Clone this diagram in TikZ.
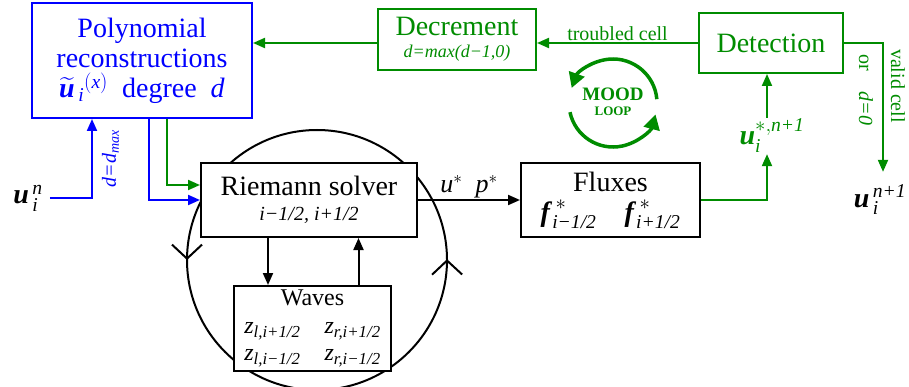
\documentclass[tikz,border=0pt]{standalone}
\usepackage{amsmath}
\usepackage{fontspec}
\setmainfont{Liberation Serif}
\usepackage{tikz}
\usetikzlibrary{arrows.meta,decorations.markings}
\definecolor{moodgreen}{HTML}{008C00}
\definecolor{recblue}{HTML}{0000FF}
\newcommand{\bu}{\textbf{\textit{u}}}
\newcommand{\bff}{\textbf{\textit{f}}}
\newcommand{\ti}[1]{\textit{#1}}

\begin{document}
\begin{tikzpicture}[
      x=1pt, y=-1pt,
      box/.style={draw, fill=white, line width=2pt, align=center, inner sep=0pt,
                  font=\fontsize{28}{30}\selectfont},
      recbox/.style={box, draw=recblue, text=recblue},
      moodbox/.style={box, draw=moodgreen, text=moodgreen},
      lbl/.style={inner sep=1pt, align=center, font=\fontsize{20}{22}\selectfont},
      vec/.style={inner sep=1pt, font=\fontsize{28}{30}\selectfont},
      flow/.style={-{Triangle[length=12pt,width=10pt]}, line width=2pt},
      recflow/.style={flow, recblue},
      moodflow/.style={flow, moodgreen},
      loopflow/.style={-{Triangle[length=15pt,width=16pt]}, line width=3.5pt, moodgreen},
    ]
    \useasboundingbox (0,0) rectangle (909,387);

    % --- wave cycle behind the solver --------------------------------------------
    \draw[line width=2pt, postaction={decorate}, decoration={markings,
        mark=at position 0.5 with {\arrowreversed{Straight Barb[length=14pt,width=30pt]}},
        mark=at position 0.999 with {\arrowreversed{Straight Barb[length=14pt,width=30pt]}}}]
      (317,260) circle[radius=130];

    % --- boxes ---------------------------------------------------------------------
    \node[recbox, minimum width=220pt, minimum height=115pt] (poly) at (142,60.5)
      {Polynomial\\reconstructions\\$\widetilde{\bu}_{\,\ti{i}}{}^{(\ti{x})}$\ \ degree\ \ \ti{d}};
    \node[moodbox, minimum width=158pt, minimum height=61pt] (decr) at (457,39.5)
      {Decrement\\[-8pt]{\fontsize{18}{20}\selectfont\ti{d=max(d−1,0)}}};
    \node[moodbox, minimum width=144pt, minimum height=60pt] (detect) at (771,43) {Detection};
    \node[box, minimum width=216pt, minimum height=74pt] (riemann) at (309,200)
      {Riemann solver\\[-5pt]{\fontsize{20}{22}\selectfont\ti{i−1/2, i+1/2}}};
    \node[box, minimum width=179pt, minimum height=74pt] (fluxes) at (610.5,200)
      {Fluxes\\[0pt]$\bff^{\,*}_{\ti{i−1/2}}\quad\bff^{\,*}_{\ti{i+1/2}}$};
    \node[box, minimum width=157pt, minimum height=85pt, font=\fontsize{24}{26}\selectfont] (waves) at (312.5,328.5)
      {Waves\\[2pt]\ti{z}$_{\ti{l,i+1/2}}$\quad\ti{z}$_{\ti{r,i+1/2}}$\\[1pt]\ti{z}$_{\ti{l,i−1/2}}$\quad\ti{z}$_{\ti{r,i−1/2}}$};

    % --- states --------------------------------------------------------------------
    \node[vec] (uold) at (28,198) {$\bu^{\,\ti{n}}_{\,\ti{i}}$};
    \node[vec] (unew) at (880,200) {$\bu^{\,\ti{n+1}}_{\,\ti{i}}$};
    \node[vec, text=moodgreen] (ustar) at (772,136) {$\bu^{*,\ti{n+1}}_{\ti{i}}$};

    % --- reconstruction in, solver, fluxes ----------------------------------------
    \draw[recflow] ([xshift=6pt]uold.east) -| node[lbl, pos=0.75, xshift=8pt, rotate=90, anchor=north, text=recblue] {\ti{d=d}$_{\ti{max}}$} ([xshift=-50pt]poly.south);
    \draw[recflow] ([xshift=7pt]poly.south) |- (riemann.west);
    \draw[moodflow] ([xshift=25pt]poly.south) |- ([yshift=15pt]riemann.west);
    \draw[flow] (riemann.east) -- node[lbl, above, font=\fontsize{26}{28}\selectfont] {\ti{u}$^*$\ \ \ti{p}$^*$} (fluxes.west);
    \draw[flow] ([xshift=-41pt]riemann.south) -- ([xshift=-41pt]riemann.south |- waves.north);
    \draw[flow] ([xshift=46pt]waves.north) -- ([xshift=46pt]waves.north |- riemann.south);

    % --- MOOD loop -----------------------------------------------------------------
    \draw[moodflow] (fluxes.east) -| ([xshift=-5pt]ustar.south);
    \draw[moodflow] ([xshift=-5pt]ustar.north) -- ([xshift=-5pt]ustar.north |- detect.south);
    \draw[moodflow] (detect.west) -- node[lbl, above, text=moodgreen] {troubled cell} (detect.west -| decr.east);
    \draw[moodflow] (detect.west -| decr.west) -- (detect.west -| poly.east);
    \draw[moodflow] (detect.east) -| ([xshift=3pt,yshift=12pt]unew.north);
    \node[lbl, text=moodgreen, rotate=-90] (valid) at (898,86) {valid cell};
    \node[lbl, text=moodgreen, rotate=-90] (orzero) at (866,90) {or\quad\ti{d=0}};

    \draw[loopflow] ([shift={(-5:44)}]613,103) arc[start angle=-5, end angle=-160, radius=44];
    \draw[loopflow] ([shift={(-192:44)}]613,103) arc[start angle=-192, end angle=-345, radius=44];
    \node[font=\bfseries\fontsize{19}{20}\selectfont, text=moodgreen, align=center] (mood) at (613,102)
      {MOOD\\[-5pt]{\fontsize{13}{14}\selectfont LOOP}};
  \end{tikzpicture}
\end{document}
